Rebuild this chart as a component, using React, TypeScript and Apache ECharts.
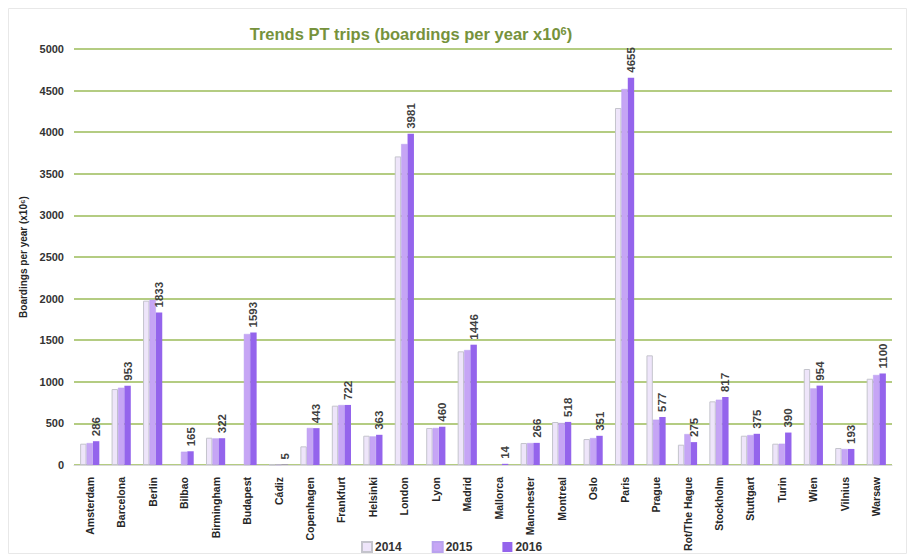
import React, { useEffect, useRef } from "react";
import * as echarts from "echarts";

const categories = ["Amsterdam", "Barcelona", "Berlin", "Bilbao", "Birmingham", "Budapest", "Cádiz", "Copenhagen", "Frankfurt", "Helsinki", "London", "Lyon", "Madrid", "Mallorca", "Manchester", "Montreal", "Oslo", "Paris", "Prague", "Rot/The Hague", "Stockholm", "Stuttgart", "Turin", "Wien", "Vilnius", "Warsaw"];
const values2014: (number | string)[] = [256, 913, 1975, "-", 328, "-", 5, 224, 713, 352, 3709, 445, 1366, "-", 264, 517, 312, 4291, 1318, 244, 765, 352, 256, 1154, 204, 1037];
const values2015: (number | string)[] = [264, 929, 1987, 160, 320, 1575, 5, 445, 721, 344, 3858, 445, 1382, "-", 264, 505, 324, 4519, 545, 372, 785, 360, 256, 921, 192, 1082];
const values2016: number[] = [286, 953, 1833, 165, 322, 1593, 5, 443, 722, 363, 3981, 460, 1446, 14, 266, 518, 351, 4655, 577, 275, 817, 375, 390, 954, 193, 1100];
const seriesNames = ["2014", "2015", "2016"];
const yTicks = { min: 0, max: 5000, interval: 500 };

const FONT = "'Liberation Sans Narrow', 'Arial Narrow', 'Liberation Sans', Arial, sans-serif";

export default function App() {
  const ref = useRef<HTMLDivElement>(null);
  useEffect(() => {
    document.body.style.margin = "0";
    const chart = echarts.init(ref.current!, undefined, { renderer: "svg" });
    const barBase = { type: "bar", barWidth: 6.4, barGap: "0%" };
    chart.setOption({
      animation: false,
      backgroundColor: "#ffffff",
      textStyle: { fontFamily: FONT },
      title: {
        text: "Trends PT trips (boardings per year x10{s|6})",
        left: 406,
        textAlign: "center",
        top: 20,
        textStyle: {
          fontFamily: FONT,
          fontSize: 16.5,
          fontWeight: "bold",
          color: "#76923C",
          rich: {
            s: { fontFamily: FONT, fontSize: 11, fontWeight: "bold", color: "#76923C", verticalAlign: "top", lineHeight: 12, padding: [0, 0, 6, 0] },
          },
        },
      },
      graphic: [
        {
          type: "rect",
          shape: { x: 8.5, y: 8.5, width: 898, height: 545 },
          style: { fill: "none", stroke: "#e8e8e8", lineWidth: 1 },
          silent: true,
        },
      ],
      legend: {
        data: seriesNames,
        left: 356,
        top: 536,
        itemWidth: 10,
        itemHeight: 10,
        itemGap: 30,
        icon: "rect",
        textStyle: { fontFamily: FONT, fontSize: 12, fontWeight: "bold", color: "#333333", padding: [0, 0, 0, -2] },
      },
      grid: { left: 74, right: 17, top: 49, bottom: 90 },
      xAxis: {
        type: "category",
        data: categories,
        axisLine: { lineStyle: { color: "#d9d9d9", width: 1 } },
        axisTick: { show: false },
        axisLabel: {
          rotate: 90,
          interval: 0,
          margin: 12,
          fontFamily: FONT,
          fontSize: 10.5,
          fontWeight: "bold",
          color: "#262626",
        },
      },
      yAxis: {
        type: "value",
        min: yTicks.min,
        max: yTicks.max,
        interval: yTicks.interval,
        name: "Boardings per year (x10⁶)",
        nameLocation: "middle",
        nameGap: 35,
        nameRotate: 90,
        nameTextStyle: { fontFamily: FONT, fontSize: 10, fontWeight: "bold", color: "#262626" },
        axisLine: { show: false },
        axisTick: { show: false },
        axisLabel: {
          fontFamily: FONT,
          fontSize: 11,
          fontWeight: "bold",
          color: "#333333",
          margin: 10,
          formatter: (v: number) => String(v),
        },
        splitLine: { lineStyle: { color: "#9BBB59", width: 1.5 } },
      },
      series: [
        {
          ...barBase,
          name: seriesNames[0],
          data: values2014,
          itemStyle: { color: "#EEE5FA", borderColor: "#c4c4cc", borderWidth: 1 },
        },
        {
          ...barBase,
          name: seriesNames[1],
          data: values2015,
          itemStyle: { color: "#C6A5F5", borderColor: "#b9a2ee", borderWidth: 0.5 },
        },
        {
          ...barBase,
          name: seriesNames[2],
          data: values2016,
          itemStyle: { color: "#9464EC" },
          label: {
            show: true,
            position: "top",
            rotate: 90,
            align: "left",
            verticalAlign: "middle",
            distance: 5,
            fontFamily: FONT,
            fontSize: 11.5,
            fontWeight: "bold",
            color: "#404040",
          },
        },
      ],
    });
    return () => chart.dispose();
  }, []);
  return <div ref={ref} style={{ width: 909, height: 555 }} />;
}
